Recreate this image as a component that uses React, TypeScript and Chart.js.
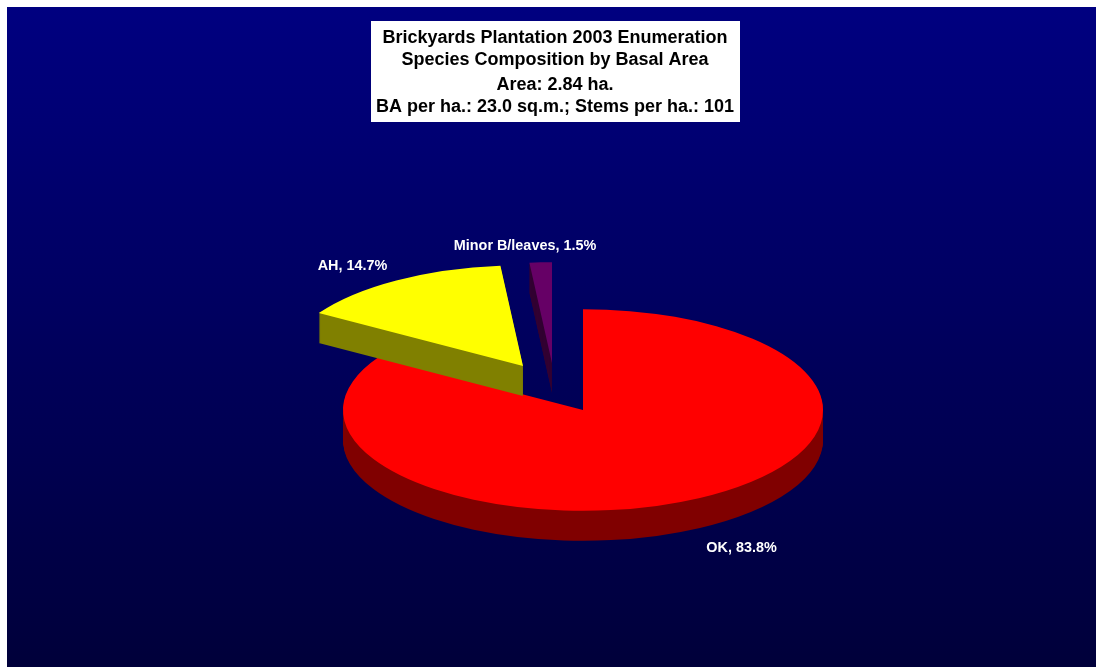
import React, { useEffect, useRef } from "react";
import { Chart, registerables } from "chart.js";

Chart.register(...registerables);

const categories = ["OK", "AH", "Minor B/leaves"];
const percentages = [83.8, 14.7, 1.5];
const titleLines = [
  "Brickyards Plantation 2003 Enumeration",
  "Species Composition by Basal Area",
  "Area: 2.84 ha.",
  "BA per ha.: 23.0 sq.m.; Stems per ha.: 101",
];
const topColors = ["#ff0000", "#ffff00", "#660066"];
const sideColors = ["#800000", "#808000", "#330033"];

const CANVAS_W = 1089;
const CANVAS_H = 660;
const SQUASH = 0.42;
const DEPTH = 30;
const FONT = '"Liberation Sans", Arial, sans-serif';
// slice displacement in canvas pixels
const explode = [
  { dx: 0, dy: 0 },
  { dx: -60, dy: -44 },
  { dx: -31, dy: -47 },
];
// data-label centres in canvas pixels
const labelAt = [
  { x: 734.5, y: 541 },
  { x: 345.5, y: 259 },
  { x: 518, y: 239 },
];
const titleBaselines = [36, 58, 83, 105];

const pseudo3d = {
  id: "pseudo3d",
  beforeDraw(chart: any) {
    const { ctx } = chart;
    const g = ctx.createLinearGradient(0, 0, 0, CANVAS_H);
    g.addColorStop(0, "#000080");
    g.addColorStop(1, "#00003a");
    ctx.fillStyle = g;
    ctx.fillRect(0, 0, CANVAS_W, CANVAS_H);
  },
  beforeDatasetDraw(chart: any) {
    const { ctx } = chart;
    const arcs = chart.getDatasetMeta(0).data;
    arcs.forEach((arc: any, i: number) => {
      const top = arc.options;
      const place = (dy: number) => {
        ctx.save();
        ctx.translate(arc.x + explode[i].dx, arc.y + explode[i].dy + dy);
        ctx.scale(1, SQUASH);
        ctx.translate(-arc.x, -arc.y);
      };
      arc.options = { ...top, backgroundColor: sideColors[i], borderWidth: 0 };
      for (let d = DEPTH; d >= 1; d--) {
        place(d);
        arc.draw(ctx);
        ctx.restore();
      }
      arc.options = top;
      place(0);
      arc.draw(ctx);
      ctx.restore();
    });
    return false;
  },
  afterDraw(chart: any) {
    const { ctx } = chart;
    ctx.save();
    ctx.fillStyle = "#ffffff";
    ctx.fillRect(364, 14, 369, 101);
    ctx.fillStyle = "#000000";
    ctx.font = `bold 18px ${FONT}`;
    ctx.textAlign = "center";
    ctx.textBaseline = "alphabetic";
    titleLines.forEach((line, i) => ctx.fillText(line, 548, titleBaselines[i]));
    ctx.fillStyle = "#ffffff";
    ctx.font = `bold 14.4px ${FONT}`;
    ctx.textBaseline = "middle";
    categories.forEach((c, i) =>
      ctx.fillText(`${c}, ${percentages[i].toFixed(1)}%`, labelAt[i].x, labelAt[i].y)
    );
    ctx.restore();
  },
};

export default function App() {
  const ref = useRef<HTMLCanvasElement>(null);
  useEffect(() => {
    const chart = new Chart(ref.current!, {
      type: "pie",
      data: {
        labels: categories,
        datasets: [{ data: percentages, backgroundColor: topColors, borderWidth: 0, hoverOffset: 0 }],
      },
      options: {
        animation: false,
        responsive: false,
        devicePixelRatio: 1,
        layout: { padding: { left: 336, right: 273, top: 163, bottom: 17 } },
        plugins: { legend: { display: false }, tooltip: { enabled: false }, title: { display: false } },
      },
      plugins: [pseudo3d],
    } as any);
    return () => chart.destroy();
  }, []);
  return (
    <div style={{ position: "fixed", left: 7, top: 7, width: CANVAS_W, height: CANVAS_H }}>
      <canvas ref={ref} width={CANVAS_W} height={CANVAS_H} style={{ display: "block" }} />
    </div>
  );
}
